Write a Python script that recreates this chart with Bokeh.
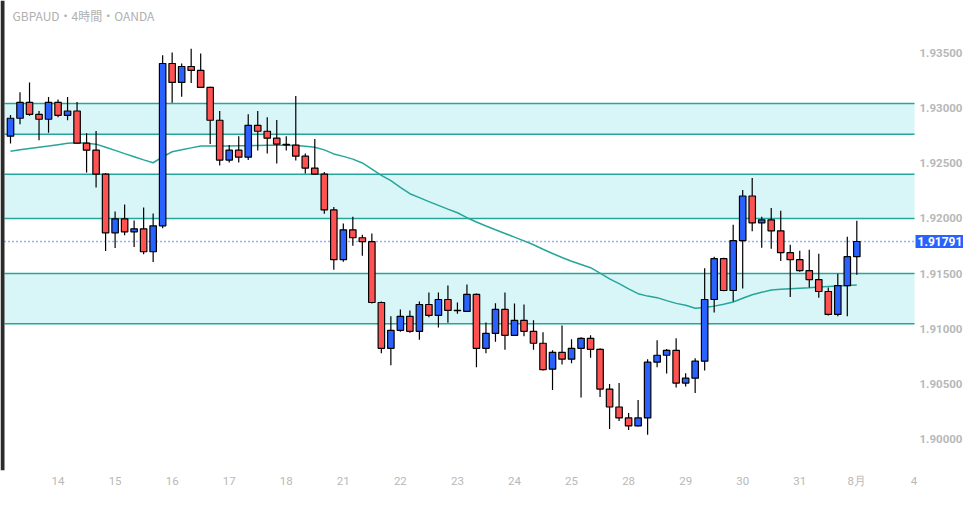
from bokeh.plotting import figure
from bokeh.models import (ColumnDataSource, BoxAnnotation, Label, FixedTicker,
                          PrintfTickFormatter, LinearAxis)
from bokeh.embed import file_html
from bokeh.resources import INLINE

# ---- data (GBPAUD 4h candles) ----
opens = [1.92747, 1.92910, 1.93054, 1.92946, 1.92901, 1.93054, 1.92937, 1.92976, 1.92684, 1.92620,
         1.92403, 1.91870, 1.91997, 1.91879, 1.91906, 1.91698, 1.91933, 1.93407, 1.93235, 1.93380,
         1.93344, 1.93190, 1.92892, 1.92530, 1.92620, 1.92557, 1.92846, 1.92792, 1.92729, 1.92672,
         1.92666, 1.92566, 1.92458, 1.92403, 1.92078, 1.91626, 1.91897, 1.91825, 1.91789, 1.91237,
         1.90821, 1.90984, 1.91111, 1.90975, 1.91219, 1.91120, 1.91264, 1.91166, 1.91156, 1.91310,
         1.90821, 1.90957, 1.91174, 1.90939, 1.91075, 1.90975, 1.90867, 1.90632, 1.90785, 1.90722,
         1.90821, 1.90912, 1.90812, 1.90451, 1.90288, 1.90189, 1.90116, 1.90189, 1.90695, 1.90758,
         1.90803, 1.90505, 1.90550, 1.90704, 1.91264, 1.91635, 1.91346, 1.91798, 1.92204, 1.91960,
         1.91988, 1.91888, 1.91689, 1.91626, 1.91527, 1.91445, 1.91337, 1.91129, 1.91391, 1.91653]
highs = [1.92939, 1.93145, 1.93235, 1.92976, 1.93102, 1.93081, 1.93102, 1.93057, 1.92774, 1.92795,
         1.92412, 1.92063, 1.92126, 1.91981, 1.92099, 1.92045, 1.93482, 1.93506, 1.93407, 1.93542,
         1.93497, 1.93195, 1.92976, 1.92666, 1.92747, 1.92946, 1.92976, 1.92919, 1.92894, 1.92747,
         1.93111, 1.92590, 1.92722, 1.92421, 1.92105, 1.91954, 1.92015, 1.91852, 1.91864, 1.91246,
         1.91113, 1.91174, 1.91165, 1.91246, 1.91328, 1.91328, 1.91391, 1.91237, 1.91400, 1.91319,
         1.91056, 1.91231, 1.91328, 1.91228, 1.91219, 1.91075, 1.90966, 1.90803, 1.91029, 1.90903,
         1.90921, 1.90939, 1.90821, 1.90496, 1.90505, 1.90234, 1.90351, 1.90722, 1.90894, 1.90815,
         1.90912, 1.90595, 1.90731, 1.91547, 1.91653, 1.91644, 1.91942, 1.92259, 1.92367, 1.92015,
         1.92096, 1.92069, 1.91762, 1.91707, 1.91716, 1.91680, 1.91373, 1.91499, 1.91834, 1.91979]
lows = [1.92680, 1.92855, 1.92933, 1.92711, 1.92779, 1.92919, 1.92892, 1.92680, 1.92418, 1.92282,
        1.91704, 1.91731, 1.91848, 1.91740, 1.91674, 1.91604, 1.91912, 1.93051, 1.93105, 1.93231,
        1.93184, 1.92677, 1.92481, 1.92508, 1.92508, 1.92530, 1.92617, 1.92590, 1.92499, 1.92617,
        1.92526, 1.92409, 1.92397, 1.92042, 1.91535, 1.91608, 1.91752, 1.91662, 1.91228, 1.90776,
        1.90668, 1.90971, 1.90962, 1.90899, 1.91102, 1.91011, 1.91053, 1.91134, 1.91150, 1.90650,
        1.90776, 1.90881, 1.90809, 1.90933, 1.90930, 1.90809, 1.90619, 1.90442, 1.90673, 1.90686,
        1.90375, 1.90736, 1.90378, 1.90089, 1.90161, 1.90080, 1.90110, 1.90035, 1.90648, 1.90592,
        1.90465, 1.90474, 1.90415, 1.90619, 1.91147, 1.91340, 1.91246, 1.91364, 1.91884, 1.91734,
        1.91725, 1.91613, 1.91288, 1.91517, 1.91373, 1.91279, 1.91120, 1.91111, 1.91111, 1.91490]
closes = [1.92910, 1.93054, 1.92946, 1.92901, 1.93054, 1.92937, 1.92976, 1.92684, 1.92620, 1.92403,
          1.91870, 1.91997, 1.91879, 1.91906, 1.91698, 1.91933, 1.93407, 1.93235, 1.93380, 1.93344,
          1.93190, 1.92892, 1.92530, 1.92620, 1.92557, 1.92846, 1.92792, 1.92729, 1.92675, 1.92668,
          1.92566, 1.92458, 1.92403, 1.92078, 1.91626, 1.91897, 1.91825, 1.91789, 1.91237, 1.90821,
          1.90984, 1.91111, 1.90975, 1.91219, 1.91120, 1.91264, 1.91165, 1.91164, 1.91310, 1.90821,
          1.90957, 1.91174, 1.90939, 1.91075, 1.90975, 1.90867, 1.90628, 1.90785, 1.90722, 1.90821,
          1.90912, 1.90812, 1.90451, 1.90288, 1.90189, 1.90116, 1.90189, 1.90695, 1.90758, 1.90803,
          1.90505, 1.90550, 1.90704, 1.91264, 1.91635, 1.91346, 1.91798, 1.92204, 1.91960, 1.91988,
          1.91888, 1.91689, 1.91626, 1.91527, 1.91445, 1.91337, 1.91129, 1.91391, 1.91653, 1.91791]
ma_values = [1.92611, 1.92623, 1.92635, 1.92647, 1.92658, 1.92670, 1.92682, 1.92687, 1.92682, 1.92675,
             1.92647, 1.92618, 1.92589, 1.92561, 1.92532, 1.92506, 1.92559, 1.92606, 1.92623, 1.92641,
             1.92659, 1.92659, 1.92659, 1.92659, 1.92660, 1.92661, 1.92663, 1.92664, 1.92665, 1.92665,
             1.92663, 1.92656, 1.92646, 1.92623, 1.92586, 1.92564, 1.92539, 1.92504, 1.92449, 1.92392,
             1.92343, 1.92283, 1.92225, 1.92189, 1.92153, 1.92119, 1.92085, 1.92052, 1.92007, 1.91968,
             1.91932, 1.91897, 1.91864, 1.91831, 1.91797, 1.91761, 1.91721, 1.91682, 1.91646, 1.91611,
             1.91582, 1.91553, 1.91503, 1.91452, 1.91408, 1.91360, 1.91317, 1.91295, 1.91281, 1.91254,
             1.91229, 1.91212, 1.91184, 1.91192, 1.91204, 1.91221, 1.91242, 1.91275, 1.91307, 1.91330,
             1.91351, 1.91357, 1.91362, 1.91367, 1.91372, 1.91378, 1.91383, 1.91387, 1.91392, 1.91396]
band_bottoms = [1.92765, 1.92000, 1.91045]
band_tops = [1.93045, 1.92401, 1.91500]
current_price = 1.91791
day_labels = ["14", "15", "16", "17", "18", "21", "22", "23", "24", "25", "28", "29", "30", "31", "8月", "4"]
price_ticks = [1.900, 1.905, 1.910, 1.915, 1.920, 1.925, 1.930, 1.935]
title_text = "GBPAUD・4時間・OANDA"

CANDLES_PER_DAY = 6
FIRST_DAY_OFFSET = 5

BLUE = "#2962ff"
RED = "#ff5252"
TEAL = "#26a69a"
BAND_FILL = "#d8f5f7"
GRAY = "#b8b8b8"

n = len(opens)
idx = list(range(n))
src = ColumnDataSource(dict(
    x=idx, o=opens, h=highs, l=lows, c=closes,
    top=[max(a, b) for a, b in zip(opens, closes)],
    bottom=[min(a, b) for a, b in zip(opens, closes)],
    color=[BLUE if c > o else RED for o, c in zip(opens, closes)],
))

W, H = 963, 490
X0, X1 = -1.052, 100.22      # frame spans the whole width
XEDGE = -0.631               # left edge of the chart pane
XR = 95.07                   # right edge of the chart pane / price scale position
Y0, Y1 = 1.897115, 1.939792

p = figure(width=W, height=H, x_range=(X0, X1), y_range=(Y0, Y1),
           output_backend="svg", toolbar_location=None,
           x_axis_location="below", y_axis_location=None,
           min_border_left=0, min_border_top=0, min_border_right=0,
           min_border_bottom=18)
p.outline_line_color = None
p.grid.visible = False
p.background_fill_color = "white"
p.border_fill_color = "white"

# window edge strip on the left
p.add_layout(BoxAnnotation(right=XEDGE, fill_color="#2b2b2b", fill_alpha=1.0, line_color=None,
                           level="overlay"))

# support / resistance bands
for b, t in zip(band_bottoms, band_tops):
    p.add_layout(BoxAnnotation(bottom=b, top=t, left=XEDGE, right=XR, fill_color=BAND_FILL,
                               fill_alpha=1.0, line_color=None, level="underlay"))
levels = band_bottoms + band_tops
p.segment(x0=[XEDGE] * len(levels), x1=[XR] * len(levels), y0=levels, y1=levels,
          line_color=TEAL, line_width=1.5)
p.segment(x0=[XEDGE], x1=[XR], y0=[current_price], y1=[current_price],
          line_color=BLUE, line_width=1.5, line_dash="1 3")

p.line(idx, ma_values, line_color=TEAL, line_width=1.5)

p.segment(x0="x", y0="h", x1="x", y1="l", source=src, line_color="black", line_width=1.2)
p.vbar(x="x", top="top", bottom="bottom", width=0.68, source=src,
       fill_color="color", line_color="black", line_width=1.2)

# time axis
tick_pos = [FIRST_DAY_OFFSET + CANDLES_PER_DAY * k for k in range(len(day_labels))]
xa = p.xaxis[0]
xa.ticker = FixedTicker(ticks=tick_pos)
xa.major_label_overrides = {t: lab for t, lab in zip(tick_pos, day_labels)}
xa.axis_line_color = None
xa.major_tick_line_color = None
xa.minor_tick_line_color = None
xa.major_tick_out = 0
xa.major_tick_in = 0
xa.minor_tick_out = 0
xa.major_label_standoff = 3
xa.major_label_text_color = GRAY
xa.major_label_text_font = "Roboto"
xa.major_label_text_font_size = "11.5px"

# price scale, drawn at the right edge of the chart pane
ya = LinearAxis(ticker=FixedTicker(ticks=price_ticks), formatter=PrintfTickFormatter(format="%.5f"),
                fixed_location=XR, axis_line_color=None, major_tick_line_color=None,
                minor_tick_line_color=None, major_tick_out=0, major_tick_in=0, minor_tick_out=0,
                major_label_standoff=5, major_label_text_color=GRAY, major_label_text_font="Roboto",
                major_label_text_font_size="11.5px", major_label_text_font_style="bold")
p.add_layout(ya, "right")

p.add_layout(Label(x=0.21, y=1.93844, text=title_text, text_color="#b0b0b0",
                   text_font="Noto Sans CJK JP", text_font_size="12px",
                   text_baseline="middle", text_align="left"))

# current price tag on the price scale
p.add_layout(Label(x=XR, y=current_price, x_offset=1, text=f"{current_price:.5f}",
                   text_color="white", text_font="Roboto", text_font_size="12px",
                   text_font_style="bold", text_baseline="middle", text_align="left",
                   background_fill_color=BLUE, padding=2, level="overlay"))

open("out.html", "w").write(file_html(p, INLINE))
